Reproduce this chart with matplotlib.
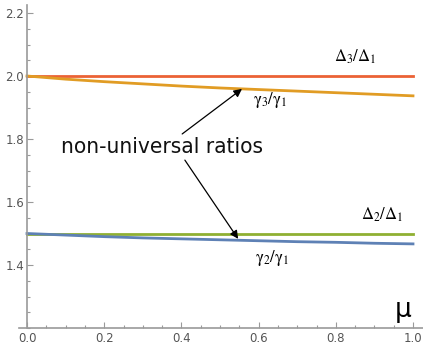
import numpy as np
import matplotlib
matplotlib.use("Agg")
import matplotlib.pyplot as plt
from matplotlib.ticker import MultipleLocator

# data
mu = [0.0, 0.1, 0.2, 0.3, 0.4, 0.5, 0.6, 0.7, 0.8, 0.9, 1.0]
delta3 = [2.0] * len(mu)
gamma3 = [2.0, 1.990, 1.982, 1.975, 1.968, 1.962, 1.957, 1.952, 1.947, 1.942, 1.937]
delta2 = [1.5] * len(mu)
gamma2 = [1.5, 1.495, 1.490, 1.486, 1.483, 1.480, 1.477, 1.474, 1.472, 1.469, 1.467]

W, H = 423, 347
fig = plt.figure(figsize=(W / 100, H / 100), dpi=100)
x0, x1 = 19, 423      # axes pixel extents
y0, y1 = 5, 328
ax = fig.add_axes([x0 / W, 1 - y1 / H, (x1 - x0) / W, (y1 - y0) / H])

# x = 0 at px 27, x = 1 at px 413
sx = 386.0
ax.set_xlim(-(27 - x0) / sx, (x1 - 27) / sx)
ax.set_ylim(1.2, 2.0 + (76 - y0) / 315.0)

lw = 2.0
ax.plot(mu, delta3, color="#EB6235", lw=lw)
ax.plot(mu, gamma3, color="#E19C24", lw=lw)
ax.plot(mu, delta2, color="#8FB032", lw=lw)
ax.plot(mu, gamma2, color="#5E81B5", lw=lw)

for s in ["top", "right"]:
    ax.spines[s].set_visible(False)
ax.spines["left"].set_position(("data", 0))
ax.spines["bottom"].set_position(("data", 1.2))
for s in ["left", "bottom"]:
    ax.spines[s].set_color("#9a9a9a")
    ax.spines[s].set_linewidth(1.2)

ax.set_xticks([0.0, 0.2, 0.4, 0.6, 0.8, 1.0])
ax.xaxis.set_minor_locator(MultipleLocator(0.05))
ax.set_yticks([1.4, 1.6, 1.8, 2.0, 2.2])
ax.set_yticklabels(["1.4", "1.6", "1.8", "2.0", "2.2"])
ax.yaxis.set_minor_locator(MultipleLocator(0.05))
ax.tick_params(which="both", direction="in", color="#9a9a9a", labelcolor="#555555",
               labelsize=8.5, width=0.8)
ax.tick_params(which="major", length=4, pad=3)
ax.tick_params(which="minor", length=2.5)
ax.tick_params(axis="y", pad=2)

lab = dict(fontsize=12, ha="center", math_fontfamily="stix", color="black")
ax.text(0.85, 2.045, r"$\Delta_3/\Delta_1$", **lab)
ax.text(0.63, 1.91, r"$\mathrm{\gamma}_3/\mathrm{\gamma}_1$", **lab)
ax.text(0.92, 1.545, r"$\Delta_2/\Delta_1$", **lab)
ax.text(0.635, 1.41, r"$\mathrm{\gamma}_2/\mathrm{\gamma}_1$", **lab)

ax.text(0.351, 1.7556, "non-universal ratios", fontsize=16.2, ha="center", va="baseline",
        family="DejaVu Sans", fontstretch="condensed", color="#111111")

ax.annotate("", xy=(0.557, 1.959), xytext=(0.402, 1.816),
            arrowprops=dict(arrowstyle="-|>", color="black", lw=0.9,
                            mutation_scale=12, shrinkA=0, shrinkB=0))
ax.annotate("", xy=(0.547, 1.483), xytext=(0.409, 1.733),
            arrowprops=dict(arrowstyle="-|>", color="black", lw=0.9,
                            mutation_scale=12, shrinkA=0, shrinkB=0))

ax.text(0.974, 1.257, "μ", fontsize=19, ha="center", va="center", color="black")

fig.savefig("out.png", dpi=100)
